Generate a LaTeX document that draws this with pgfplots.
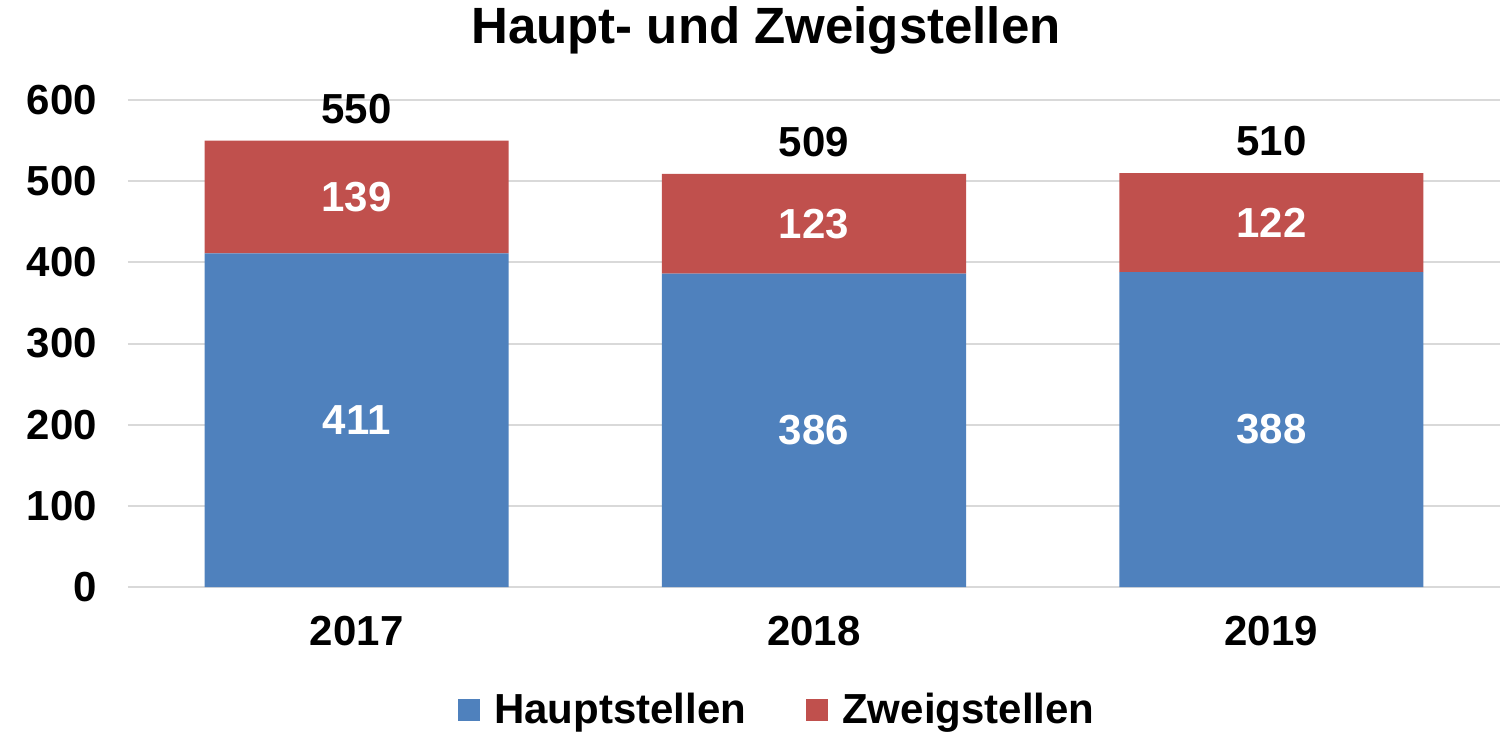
\documentclass[border=0pt]{standalone}
\usepackage{pgfplots}
\pgfplotsset{compat=1.18}
\usepackage{fontspec}
\setmainfont{Liberation Sans}
\definecolor{hblue}{HTML}{4F81BD}
\definecolor{zred}{HTML}{C0504D}
\definecolor{gridc}{HTML}{D9D9D9}
\newcommand{\lblfont}{\bfseries\fontsize{21}{24}\selectfont}
\begin{document}
\begin{tikzpicture}
\useasboundingbox (-64pt,-73.5pt) rectangle (689pt,293.5pt);
\begin{axis}[
  at={(0,0)}, anchor=south west,
  scale only axis, width=686pt, height=243.5pt,
  ybar stacked, bar width=0.665,
  xmin=-0.5, xmax=2.5, ymin=0, ymax=600,
  xtick={0,1,2}, xticklabels={2017,2018,2019},
  ytick={0,100,...,600},
  ymajorgrids, grid style={gridc, line width=1pt},
  axis lines*=left, axis line style={draw=none},
  major tick length=0pt,
  tick label style={font=\lblfont},
  /pgf/number format/assume math mode=true,
  xticklabel style={yshift=-11pt},
  yticklabel style={xshift=-12pt},
  title={Haupt- und Zweigstellen},
  title style={font=\bfseries\fontsize{25.5}{28}\selectfont, at={(0.465,1)}, anchor=center, yshift=29pt},
  legend style={at={(0.474,-0.2526)}, anchor=center, legend columns=2, draw=none,
    font=\lblfont,
    /tikz/every even column/.append style={column sep=28pt}},
  legend image code/.code={\fill[#1] (0pt,-5.5pt) rectangle (11pt,5.5pt); \path (16pt,0pt);},
  nodes near coords,
  point meta=explicit,
]
\addplot[fill=hblue, draw=none,
  every node near coord/.append style={white, font=\lblfont}]
  coordinates {(0,411)[411] (1,386)[386] (2,388)[388]};
\addplot[fill=zred, draw=none,
  every node near coord/.append style={white, font=\lblfont}]
  coordinates {(0,139)[139] (1,123)[123] (2,122)[122]};
\legend{Hauptstellen, Zweigstellen}
\end{axis}
\begin{axis}[
  at={(0,0)}, anchor=south west,
  scale only axis, width=686pt, height=243.5pt,
  ybar, bar width=0.665,
  xmin=-0.5, xmax=2.5, ymin=0, ymax=600,
  hide axis,
  /pgf/number format/assume math mode=true,
  nodes near coords,
  point meta=explicit,
]
\addplot[fill=none, draw=none,
  every node near coord/.append style={black, font=\lblfont, anchor=south, yshift=5pt}]
  coordinates {(0,550)[550] (1,509)[509] (2,510)[510]};
\end{axis}
\end{tikzpicture}
\end{document}
